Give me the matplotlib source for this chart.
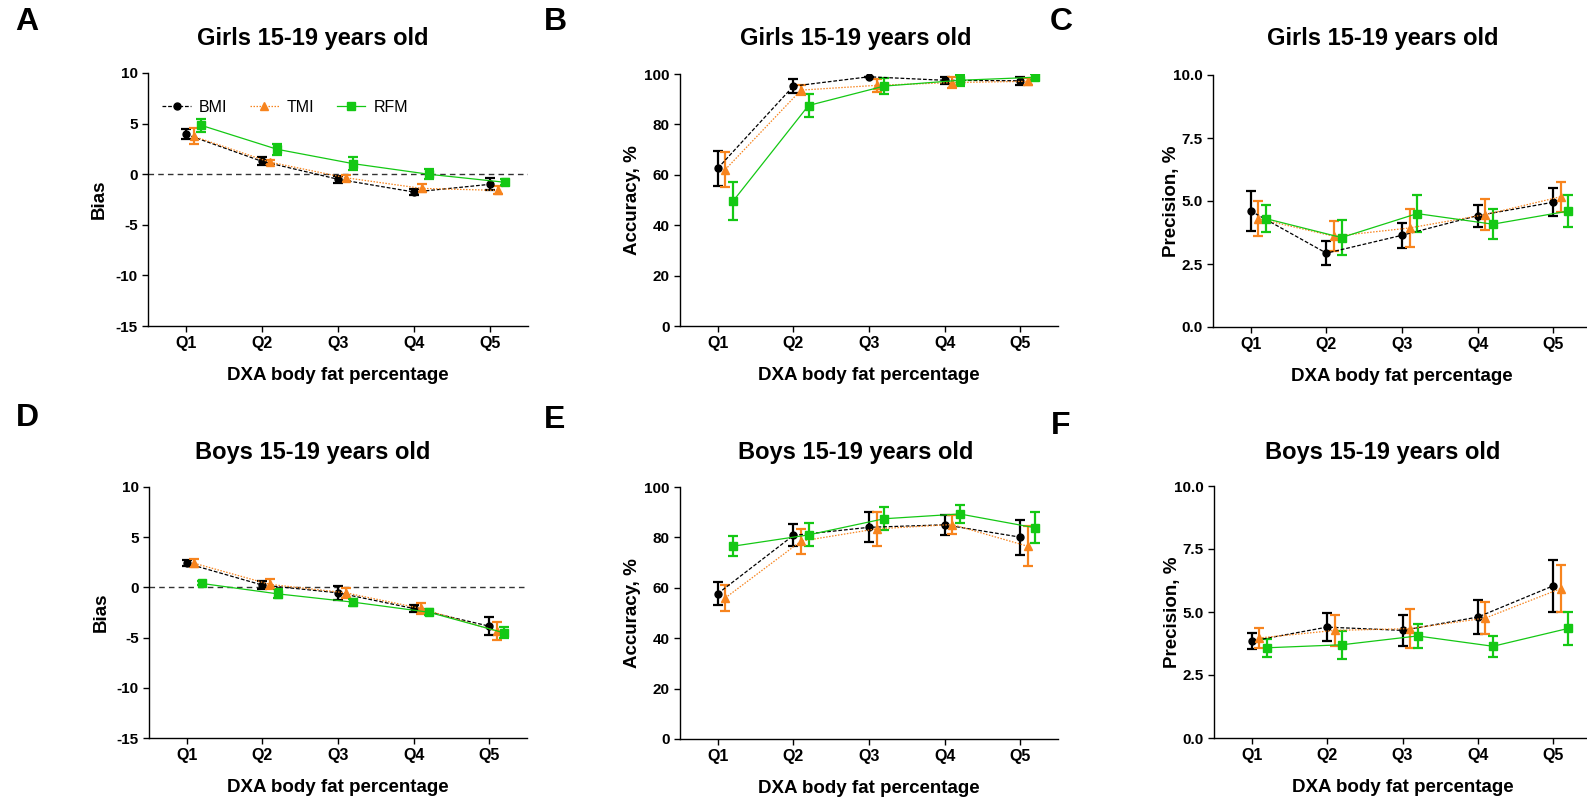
import numpy as np
import matplotlib.pyplot as plt
from matplotlib.lines import Line2D

plt.rcParams['font.family'] = ['Liberation Sans', 'DejaVu Sans']

# DATA ----------------------------------------------------------
quintiles = ['Q1', 'Q2', 'Q3', 'Q4', 'Q5']
methods = ['BMI', 'TMI', 'RFM']

# girls bias
g_bias = {'BMI': [3.94, 1.27, -0.50, -1.76, -1.00],
          'TMI': [3.74, 1.20, -0.35, -1.40, -1.60],
          'RFM': [4.83, 2.46, 1.04, -0.01, -0.80]}
g_bias_err = {'BMI': [0.50, 0.40, 0.35, 0.30, 0.60],
              'TMI': [0.80, 0.20, 0.30, 0.40, 0.40],
              'RFM': [0.65, 0.55, 0.65, 0.50, 0.30]}
# girls accuracy
g_acc = {'BMI': [62.6, 95.2, 98.9, 97.5, 97.3],
         'TMI': [62.1, 93.6, 95.5, 96.6, 97.1],
         'RFM': [49.5, 87.5, 95.2, 97.5, 98.7]}
g_acc_err = {'BMI': [7.0, 2.8, 0.0, 1.5, 1.5],
             'TMI': [7.0, 2.0, 2.5, 2.2, 1.5],
             'RFM': [7.6, 4.6, 3.1, 2.2, 1.2]}
# girls precision
g_prec = {'BMI': [4.60, 2.93, 3.64, 4.42, 4.95],
          'TMI': [4.30, 3.60, 3.93, 4.46, 5.17],
          'RFM': [4.30, 3.55, 4.50, 4.08, 4.60]}
g_prec_err = {'BMI': [0.80, 0.47, 0.50, 0.44, 0.56],
              'TMI': [0.70, 0.60, 0.75, 0.62, 0.60],
              'RFM': [0.53, 0.70, 0.72, 0.60, 0.65]}
# boys bias
b_bias = {'BMI': [2.39, 0.23, -0.54, -2.10, -3.86],
          'TMI': [2.40, 0.30, -0.54, -2.10, -4.36],
          'RFM': [0.39, -0.64, -1.47, -2.47, -4.53]}
b_bias_err = {'BMI': [0.30, 0.40, 0.70, 0.35, 0.90],
              'TMI': [0.40, 0.50, 0.50, 0.55, 0.90],
              'RFM': [0.20, 0.45, 0.35, 0.30, 0.55]}
# boys accuracy
b_acc = {'BMI': [57.7, 80.8, 84.0, 85.0, 80.1],
         'TMI': [56.0, 78.5, 83.4, 85.1, 76.5],
         'RFM': [76.5, 81.0, 87.4, 89.3, 83.8]}
b_acc_err = {'BMI': [4.7, 4.4, 6.0, 3.9, 7.0],
             'TMI': [5.2, 4.9, 6.8, 3.9, 8.0],
             'RFM': [3.9, 4.6, 4.6, 3.4, 6.1]}
# boys precision
b_prec = {'BMI': [3.85, 4.40, 4.27, 4.80, 6.04],
          'TMI': [3.97, 4.27, 4.34, 4.76, 5.93],
          'RFM': [3.58, 3.70, 4.05, 3.64, 4.35]}
b_prec_err = {'BMI': [0.30, 0.57, 0.60, 0.67, 1.04],
              'TMI': [0.40, 0.60, 0.76, 0.64, 0.93],
              'RFM': [0.35, 0.55, 0.48, 0.42, 0.65]}

# STYLE ---------------------------------------------------------
colors = {'BMI': 'black', 'TMI': '#F7841E', 'RFM': '#14C814'}
markers = {'BMI': 'o', 'TMI': '^', 'RFM': 's'}
msizes = {'BMI': 5, 'TMI': 6, 'RFM': 6}
lstyles = {'BMI': (0, (3, 1.5)), 'TMI': (0, (1.2, 1.2)), 'RFM': '-'}
offsets = {'BMI': 0.0, 'TMI': 0.1, 'RFM': 0.2}

W, H = 1587, 798
fig = plt.figure(figsize=(W / 100, H / 100), dpi=100)


def px_axes(left, right, top, bottom):
    return fig.add_axes([left / W, 1 - bottom / H, (right - left) / W, (bottom - top) / H])


def draw(ax, vals, errs, ylim, yticks, ylabel, fmt, zero=False, legend=False):
    x = np.arange(1, 6)
    if zero:
        ax.axhline(0, color='#333333', ls=(0, (4, 3)), lw=1, zorder=1)
    for m in methods:
        ax.errorbar(x + offsets[m], vals[m], yerr=errs[m], color=colors[m],
                    marker=markers[m], ms=msizes[m], ls=lstyles[m], lw=0.9,
                    elinewidth=1.6, capsize=3.5, capthick=1.6, zorder=3)
    ax.set_xlim(0.5, 5.5)
    ax.set_ylim(*ylim)
    ax.set_yticks(yticks)
    ax.set_yticklabels([fmt.format(v) for v in yticks])
    ax.set_xticks(x)
    ax.set_xticklabels(quintiles)
    for s in ['top', 'right']:
        ax.spines[s].set_visible(False)
    for s in ['left', 'bottom']:
        ax.spines[s].set_linewidth(1)
    ax.tick_params(axis='y', direction='out', length=4, width=1, labelsize=11)
    ax.tick_params(axis='x', direction='out', length=4, width=1, labelsize=11.5)
    for lab in ax.get_xticklabels() + ax.get_yticklabels():
        lab.set_fontweight('bold')
    ax.set_xlabel('DXA body fat percentage', fontsize=13.5, fontweight='bold', labelpad=11)
    ax.set_ylabel(ylabel, fontsize=13.5, fontweight='bold')
    if legend:
        handles = [Line2D([], [], color=colors[m], marker=markers[m], ms=msizes[m],
                          ls=lstyles[m], lw=0.9) for m in methods]
        ax.legend(handles, methods, loc='upper left', bbox_to_anchor=(0.0, 0.95), ncol=3,
                  frameon=False, fontsize=11.5, handlelength=1.8, columnspacing=1.4,
                  handletextpad=0.5)


bias_ticks = [-15, -10, -5, 0, 5, 10]
acc_ticks = [0, 20, 40, 60, 80, 100]
prec_ticks = [0.0, 2.5, 5.0, 7.5, 10.0]

axA = px_axes(148, 528, 73, 326)
draw(axA, g_bias, g_bias_err, (-15, 10), bias_ticks, 'Bias', '{:g}', zero=True, legend=True)
axB = px_axes(680, 1058, 74, 326)
draw(axB, g_acc, g_acc_err, (0, 100), acc_ticks, 'Accuracy, %', '{:g}')
axC = px_axes(1213, 1591, 75, 327)
draw(axC, g_prec, g_prec_err, (0, 10), prec_ticks, 'Precision, %', '{:.1f}')
axD = px_axes(149, 527, 487, 738)
draw(axD, b_bias, b_bias_err, (-15, 10), bias_ticks, 'Bias', '{:g}', zero=True)
axE = px_axes(680, 1058, 487, 739)
draw(axE, b_acc, b_acc_err, (0, 100), acc_ticks, 'Accuracy, %', '{:g}')
axF = px_axes(1214, 1591, 486, 738)
draw(axF, b_prec, b_prec_err, (0, 10), prec_ticks, 'Precision, %', '{:.1f}')

axA.yaxis.set_label_coords(-0.105, 0.5)
axD.yaxis.set_label_coords(-0.105, 0.5)
axB.yaxis.set_label_coords(-0.103, 0.5)
axE.yaxis.set_label_coords(-0.103, 0.5)
axC.yaxis.set_label_coords(-0.087, 0.5)
axF.yaxis.set_label_coords(-0.087, 0.5)

# titles and panel letters
titles = [(313, 38, 'Girls 15-19 years old'), (856, 38, 'Girls 15-19 years old'),
          (1383, 38, 'Girls 15-19 years old'), (313, 452, 'Boys 15-19 years old'),
          (856, 452, 'Boys 15-19 years old'), (1383, 452, 'Boys 15-19 years old')]
for tx, ty, t in titles:
    fig.text(tx / W, 1 - ty / H, t, ha='center', va='center', fontsize=17, fontweight='bold')

letters = [(27, 22, 'A'), (555, 22, 'B'), (1061, 22, 'C'),
           (27, 418, 'D'), (555, 420, 'E'), (1061, 426, 'F')]
for lx, ly, l in letters:
    fig.text(lx / W, 1 - ly / H, l, ha='center', va='center', fontsize=23, fontweight='bold')

fig.savefig('out.png', dpi=100)
